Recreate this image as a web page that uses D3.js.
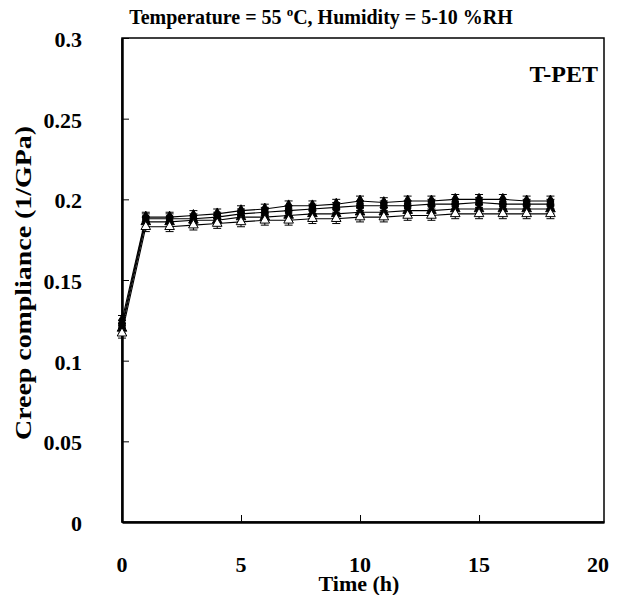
<!DOCTYPE html>
<html>
<head>
<meta charset="utf-8">
<script src="https://cdn.jsdelivr.net/npm/d3@7"></script>
<style>
  body { margin: 0; background: #fff; }
  text { font-family: "Liberation Serif", "DejaVu Serif", serif; }
</style>
</head>
<body>
<div class="chart"></div>
<script>
// 数据: time (h) and creep compliance (1/GPa) for four specimens
var times = [0, 1, 2, 3, 4, 5, 6, 7, 8, 9, 10, 11, 12, 13, 14, 15, 16, 17, 18];
var s1 = [0.125, 0.189, 0.189, 0.190, 0.191, 0.193, 0.194, 0.196, 0.196, 0.197, 0.199, 0.198, 0.199, 0.199, 0.200, 0.200, 0.200, 0.199, 0.199];
var s2 = [0.122, 0.188, 0.188, 0.188, 0.189, 0.191, 0.192, 0.193, 0.194, 0.195, 0.196, 0.196, 0.196, 0.197, 0.197, 0.198, 0.197, 0.197, 0.197];
var s3 = [0.120, 0.186, 0.186, 0.187, 0.187, 0.189, 0.189, 0.190, 0.191, 0.191, 0.192, 0.192, 0.193, 0.193, 0.194, 0.194, 0.194, 0.194, 0.194];
var s4 = [0.117, 0.183, 0.183, 0.184, 0.185, 0.186, 0.187, 0.187, 0.188, 0.188, 0.189, 0.189, 0.190, 0.190, 0.191, 0.191, 0.191, 0.191, 0.191];
var errBar = 0.003;
var xTicks = [0, 5, 10, 15, 20];
var yTicks = [0, 0.05, 0.1, 0.15, 0.2, 0.25, 0.3];

var series = [
  {vals: s1, sym: d3.symbolDiamond, fill: "#000"},
  {vals: s2, sym: d3.symbolSquare, fill: "#000"},
  {vals: s3, sym: d3.symbolTriangle, fill: "#000"},
  {vals: s4, sym: d3.symbolTriangle, fill: "#fff"}
];

var W = 618, H = 595;
var pLeft = 122, pRight = 604, pTop = 38, pBottom = 522;

var x = d3.scaleLinear().domain([0, 20.25]).range([pLeft, pRight]);
var y = d3.scaleLinear().domain([0, 0.3]).range([pBottom, pTop]);

var svg = d3.select(".chart").append("svg")
  .attr("width", W)
  .attr("height", H);

// frame
svg.append("rect")
  .attr("x", pLeft).attr("y", pTop)
  .attr("width", pRight - pLeft).attr("height", pBottom - pTop)
  .attr("fill", "none").attr("stroke", "#000").attr("stroke-width", 1.5);

// axes, ticks inward
var yAxis = svg.append("g")
  .attr("transform", "translate(" + pLeft + ",0)")
  .call(d3.axisRight(y).tickValues(yTicks).tickSize(7).tickSizeOuter(0).tickFormat(""));
yAxis.select(".domain").attr("stroke-width", 2.5);

var xAxis = svg.append("g")
  .attr("transform", "translate(0," + pBottom + ")")
  .call(d3.axisTop(x).tickValues([5, 10, 15]).tickSize(7).tickSizeOuter(0).tickFormat(""));
xAxis.select(".domain").attr("stroke-width", 2.5);

// tick labels
svg.selectAll(".ylab")
  .data(yTicks)
  .enter().append("text")
  .attr("class", "ylab")
  .attr("x", 82)
  .attr("y", function (d) { return y(d) + 9; })
  .attr("text-anchor", "end")
  .attr("font-size", 22)
  .attr("font-weight", "bold")
  .text(function (d) { return d; });

svg.selectAll(".xlab")
  .data(xTicks)
  .enter().append("text")
  .attr("class", "xlab")
  .attr("x", function (d) { return x(d); })
  .attr("y", 572)
  .attr("text-anchor", "middle")
  .attr("font-size", 22)
  .attr("font-weight", "bold")
  .text(function (d) { return d; });

// axis titles
svg.append("text")
  .attr("x", 359).attr("y", 591)
  .attr("text-anchor", "middle")
  .attr("font-size", 22).attr("font-weight", "bold")
  .text("Time (h)");

svg.append("text")
  .attr("transform", "translate(31,283) rotate(-90)")
  .attr("text-anchor", "middle")
  .attr("font-size", 23).attr("font-weight", "bold")
  .attr("textLength", 314)
  .attr("lengthAdjust", "spacingAndGlyphs")
  .text("Creep compliance (1/GPa)");

// title
var title = svg.append("text")
  .attr("x", 321).attr("y", 24)
  .attr("text-anchor", "middle")
  .attr("font-size", 20).attr("font-weight", "bold");
title.append("tspan").text("Temperature = 55 ");
title.append("tspan").attr("font-size", 13).attr("dy", -8).text("o");
title.append("tspan").attr("dy", 8).text("C, Humidity = 5-10 %RH");

svg.append("text")
  .attr("x", 598).attr("y", 82)
  .attr("text-anchor", "end")
  .attr("font-size", 24).attr("font-weight", "bold")
  .text("T-PET");

// lines
var line = d3.line()
  .x(function (d, i) { return x(times[i]); })
  .y(function (d) { return y(d); });

series.forEach(function (s) {
  svg.append("path")
    .datum(s.vals)
    .attr("d", line)
    .attr("fill", "none")
    .attr("stroke", "#000")
    .attr("stroke-width", 1.1);

  var g = svg.append("g");
  s.vals.forEach(function (v, i) {
    var cx = x(times[i]);
    g.append("line")
      .attr("x1", cx).attr("x2", cx)
      .attr("y1", y(v - errBar)).attr("y2", y(v + errBar))
      .attr("stroke", "#000").attr("stroke-width", 1);
    [v - errBar, v + errBar].forEach(function (e) {
      g.append("line")
        .attr("x1", cx - 4).attr("x2", cx + 4)
        .attr("y1", y(e)).attr("y2", y(e))
        .attr("stroke", "#000").attr("stroke-width", 1);
    });
    g.append("path")
      .attr("d", d3.symbol().type(s.sym).size(40)())
      .attr("transform", "translate(" + cx + "," + y(v) + ")")
      .attr("fill", s.fill)
      .attr("stroke", "#000")
      .attr("stroke-width", 1);
  });
});
</script>
</body>
</html>
